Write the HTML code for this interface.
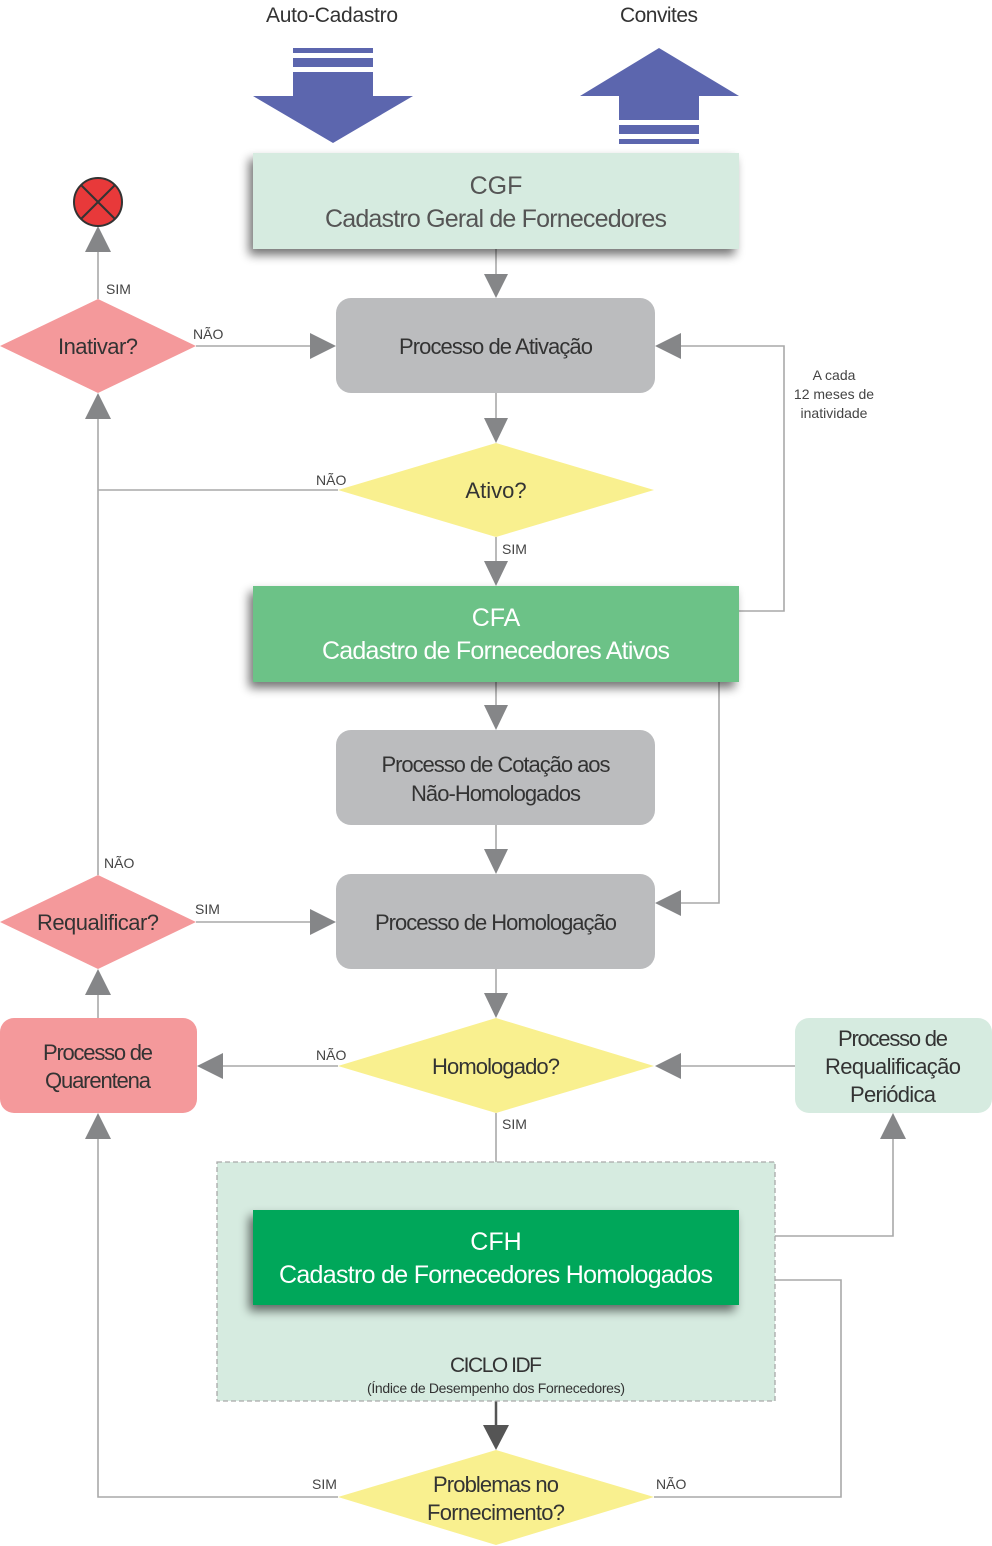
<!DOCTYPE html>
<html><head><meta charset="utf-8"><style>
html,body{margin:0;padding:0;background:#fff}
svg{display:block}
text{font-family:"Liberation Sans Narrow","Liberation Sans",sans-serif;}
</style></head><body>
<svg width="992" height="1546" viewBox="0 0 992 1546" xmlns="http://www.w3.org/2000/svg">
<defs>
<filter id="sh" x="-10%" y="-20%" width="125%" height="150%">
<feGaussianBlur in="SourceAlpha" stdDeviation="5"/>
<feOffset dx="-4" dy="6"/>
<feComponentTransfer><feFuncA type="linear" slope="0.55"/></feComponentTransfer>
<feMerge><feMergeNode/><feMergeNode in="SourceGraphic"/></feMerge>
</filter>
</defs>

<!-- Top labels and arrows -->
<text x="332" y="22" font-size="21" fill="#333" text-anchor="middle" textLength="132">Auto-Cadastro</text>
<text x="659" y="22" font-size="21" fill="#333" text-anchor="middle" textLength="78">Convites</text>
<g fill="#5c66ae">
<rect x="293" y="48" width="80" height="5"/>
<rect x="293" y="58" width="80" height="9"/>
<polygon points="293,72 373,72 373,96 413,96 333,143 253,96 293,96"/>
<polygon points="659,48 739,96 699,96 699,120 619,120 619,96 580,96"/>
<rect x="619" y="125" width="80" height="9"/>
<rect x="619" y="139" width="80" height="5"/>
</g>

<!-- Lines -->
<g stroke="#a9a9a9" stroke-width="1.6" fill="none">
<line x1="496" y1="249" x2="496" y2="278"/>
<line x1="496" y1="393" x2="496" y2="420"/>
<line x1="496" y1="537" x2="496" y2="563"/>
<polyline points="739,611 784,611 784,346 680,346"/>
<polyline points="719,682 719,903 680,903"/>
<line x1="496" y1="682" x2="496" y2="707"/>
<line x1="496" y1="825" x2="496" y2="851"/>
<line x1="496" y1="969" x2="496" y2="995"/>
<line x1="338" y1="1066" x2="222" y2="1066"/>
<line x1="795" y1="1066" x2="680" y2="1066"/>
<line x1="496" y1="1113" x2="496" y2="1187"/>
<polyline points="739,1236 893,1236 893,1138"/>
<polyline points="654,1497 841,1497 841,1280 764,1280"/>
<polyline points="338,1497 98,1497 98,1138"/>
<line x1="98" y1="1018" x2="98" y2="994"/>
<line x1="196" y1="922" x2="312" y2="922"/>
<line x1="98" y1="875" x2="98" y2="418"/>
<line x1="338" y1="490" x2="98" y2="490"/>
<line x1="196" y1="346" x2="312" y2="346"/>
<line x1="98" y1="299" x2="98" y2="250"/>
</g>
<line x1="496" y1="1401" x2="496" y2="1427" stroke="#555" stroke-width="2.5"/>

<!-- Arrowheads -->
<g fill="#858688">
<polygon points="484,274 508,274 496,298"/>
<polygon points="484,418 508,418 496,443"/>
<polygon points="484,561 508,561 496,586"/>
<polygon points="655,346 681,333 681,359"/>
<polygon points="655,903 681,890 681,916"/>
<polygon points="484,705 508,705 496,730"/>
<polygon points="484,849 508,849 496,874"/>
<polygon points="484,993 508,993 496,1018"/>
<polygon points="197,1066 223,1053 223,1079"/>
<polygon points="655,1066 681,1053 681,1079"/>
<polygon points="484,1185 508,1185 496,1210"/>
<polygon points="893,1113 880,1139 906,1139"/>
<polygon points="739,1280 765,1267 765,1293"/>
<polygon points="98,1113 85,1139 111,1139"/>
<polygon points="98,969 85,995 111,995"/>
<polygon points="336,922 310,909 310,935"/>
<polygon points="98,393 85,419 111,419"/>
<polygon points="336,346 310,333 310,359"/>
<polygon points="98,226 85,252 111,252"/>
</g>
<polygon points="483,1425 509,1425 496,1450" fill="#555"/>

<!-- CICLO box -->
<rect x="217" y="1162" width="558" height="239" fill="#d6ebe0" stroke="#a9a9a9" stroke-width="1.3" stroke-dasharray="5,3"/>

<!-- Boxes -->
<rect x="253" y="153" width="486" height="96" fill="#d6ebe0" filter="url(#sh)"/>
<text x="496" y="194" font-size="25" fill="#555" text-anchor="middle">CGF</text>
<text x="496" y="227" font-size="25" fill="#555" text-anchor="middle" textLength="342">Cadastro Geral de Fornecedores</text>

<rect x="336" y="298" width="319" height="95" rx="15" fill="#bbbcbe"/>
<text x="496" y="354" font-size="22" fill="#333" text-anchor="middle" textLength="194">Processo de Ativação</text>

<polygon points="496,443 654,490 496,537 338,490" fill="#f9f08f"/>
<text x="496" y="498" font-size="22" fill="#333" text-anchor="middle">Ativo?</text>

<rect x="253" y="586" width="486" height="96" fill="#6cc287" filter="url(#sh)"/>
<text x="496" y="626" font-size="25" fill="#fff" text-anchor="middle">CFA</text>
<text x="496" y="659" font-size="25" fill="#fff" text-anchor="middle" textLength="348">Cadastro de Fornecedores Ativos</text>

<rect x="336" y="730" width="319" height="95" rx="15" fill="#bbbcbe"/>
<text x="496" y="772" font-size="22" fill="#333" text-anchor="middle" textLength="229">Processo de Cotação aos</text>
<text x="496" y="801" font-size="22" fill="#333" text-anchor="middle" textLength="170">Não-Homologados</text>

<rect x="336" y="874" width="319" height="95" rx="15" fill="#bbbcbe"/>
<text x="496" y="930" font-size="22" fill="#333" text-anchor="middle" textLength="242">Processo de Homologação</text>

<polygon points="496,1018 654,1066 496,1113 338,1066" fill="#f9f08f"/>
<text x="496" y="1074" font-size="22" fill="#333" text-anchor="middle" textLength="128">Homologado?</text>

<rect x="0" y="1018" width="197" height="95" rx="14" fill="#f4999b"/>
<text x="98" y="1060" font-size="22" fill="#333" text-anchor="middle" textLength="110">Processo de</text>
<text x="98" y="1088" font-size="22" fill="#333" text-anchor="middle" textLength="106">Quarentena</text>

<rect x="795" y="1018" width="197" height="95" rx="14" fill="#d6ebe0"/>
<text x="893" y="1046" font-size="22" fill="#333" text-anchor="middle" textLength="110">Processo de</text>
<text x="893" y="1074" font-size="22" fill="#333" text-anchor="middle" textLength="136">Requalificação</text>
<text x="893" y="1102" font-size="22" fill="#333" text-anchor="middle" textLength="86">Periódica</text>

<rect x="253" y="1210" width="486" height="95" fill="#00a75a" filter="url(#sh)"/>
<text x="496" y="1250" font-size="25" fill="#fff" text-anchor="middle">CFH</text>
<text x="496" y="1283" font-size="25" fill="#fff" text-anchor="middle" textLength="434">Cadastro de Fornecedores Homologados</text>

<text x="496" y="1372" font-size="21" fill="#333" text-anchor="middle" textLength="92">CICLO IDF</text>
<text x="496" y="1393" font-size="14" fill="#333" text-anchor="middle" textLength="258">(Índice de Desempenho dos Fornecedores)</text>

<polygon points="496,1450 654,1497 496,1545 338,1497" fill="#f9f08f"/>
<text x="496" y="1492" font-size="22" fill="#333" text-anchor="middle" textLength="126">Problemas no</text>
<text x="496" y="1520" font-size="22" fill="#333" text-anchor="middle" textLength="138">Fornecimento?</text>

<polygon points="98,875 196,922 98,969 0,922" fill="#f4999b"/>
<text x="98" y="930" font-size="22" fill="#333" text-anchor="middle" textLength="122">Requalificar?</text>

<polygon points="98,299 196,346 98,393 0,346" fill="#f4999b"/>
<text x="98" y="354" font-size="22" fill="#333" text-anchor="middle" textLength="80">Inativar?</text>

<circle cx="98" cy="202" r="24" fill="#e8393a" stroke="#333" stroke-width="2"/>
<line x1="81" y1="185" x2="115" y2="219" stroke="#333" stroke-width="2"/>
<line x1="115" y1="185" x2="81" y2="219" stroke="#333" stroke-width="2"/>

<!-- small labels -->
<g font-size="14" fill="#444">
<text x="106" y="294">SIM</text>
<text x="193" y="339">NÃO</text>
<text x="316" y="485">NÃO</text>
<text x="502" y="554">SIM</text>
<text x="104" y="868">NÃO</text>
<text x="195" y="914">SIM</text>
<text x="316" y="1060">NÃO</text>
<text x="502" y="1129">SIM</text>
<text x="312" y="1489">SIM</text>
<text x="656" y="1489">NÃO</text>
<text x="834" y="380" text-anchor="middle">A cada</text>
<text x="834" y="399" text-anchor="middle">12 meses de</text>
<text x="834" y="418" text-anchor="middle">inatividade</text>
</g>
</svg>
</body></html>
